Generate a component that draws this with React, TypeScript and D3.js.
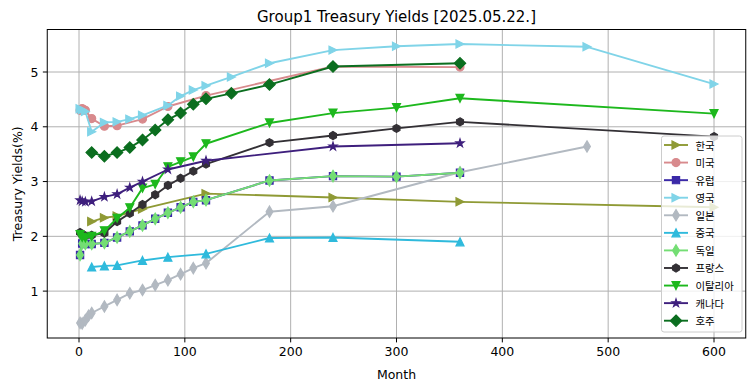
import React from "react";
import * as d3 from "d3";

const W = 755;
const H = 391;

// ---- data ----
const koreaMonths = [12, 24, 36, 60, 120, 240, 360, 600];
const koreaYields = [2.27, 2.34, 2.37, 2.5, 2.78, 2.71, 2.63, 2.53];

const usMonths = [1, 2, 3, 4, 6, 12, 24, 36, 60, 84, 120, 240, 360];
const usYields = [4.3, 4.32, 4.33, 4.32, 4.3, 4.15, 4.01, 4.02, 4.14, 4.37, 4.57, 5.1, 5.09];

const euMonths = [1, 3, 6, 12, 24, 36, 48, 60, 72, 84, 96, 108, 120, 180, 240, 300, 360];
const euYields = [1.66, 1.87, 1.86, 1.86, 1.88, 1.98, 2.09, 2.2, 2.32, 2.43, 2.53, 2.63, 2.66, 3.02, 3.1, 3.09, 3.16];

const ukMonths = [1, 3, 6, 12, 24, 36, 48, 60, 84, 96, 108, 120, 144, 180, 240, 300, 360, 480, 600];
const ukYields = [4.33, 4.31, 4.28, 3.91, 4.08, 4.09, 4.14, 4.21, 4.39, 4.56, 4.67, 4.75, 4.91, 5.16, 5.4, 5.47, 5.51, 5.46, 4.78];

const jpMonths = [1, 3, 6, 9, 12, 24, 36, 48, 60, 72, 84, 96, 108, 120, 180, 240, 360, 480];
const jpYields = [0.42, 0.41, 0.47, 0.55, 0.6, 0.72, 0.84, 0.96, 1.02, 1.11, 1.2, 1.31, 1.42, 1.51, 2.45, 2.55, 3.17, 3.64];

const cnMonths = [12, 24, 36, 60, 84, 120, 180, 240, 360];
const cnYields = [1.44, 1.46, 1.47, 1.56, 1.62, 1.68, 1.97, 1.98, 1.9];

const deMonths = [1, 3, 6, 12, 24, 36, 48, 60, 72, 84, 96, 108, 120, 180, 240, 300, 360];
const deYields = [1.66, 1.87, 1.86, 1.86, 1.88, 1.98, 2.09, 2.2, 2.32, 2.43, 2.53, 2.63, 2.66, 3.02, 3.1, 3.09, 3.16];

const frMonths = [1, 3, 6, 12, 24, 36, 48, 60, 72, 84, 96, 108, 120, 180, 240, 300, 360, 600];
const frYields = [2.07, 2.03, 2.01, 2.02, 2.06, 2.27, 2.42, 2.58, 2.76, 2.93, 3.06, 3.19, 3.32, 3.71, 3.84, 3.97, 4.09, 3.82];

const itMonths = [1, 3, 6, 12, 24, 36, 48, 60, 72, 84, 96, 108, 120, 180, 240, 300, 360, 600];
const itYields = [2.03, 1.98, 1.97, 2.0, 2.1, 2.33, 2.52, 2.88, 2.95, 3.27, 3.36, 3.45, 3.69, 4.07, 4.25, 4.35, 4.52, 4.24];

const caMonths = [1, 3, 6, 12, 24, 36, 48, 60, 84, 120, 240, 360];
const caYields = [2.66, 2.64, 2.63, 2.64, 2.72, 2.77, 2.89, 3.0, 3.22, 3.38, 3.64, 3.7];

const auMonths = [12, 24, 36, 48, 60, 72, 84, 96, 108, 120, 144, 180, 240, 360];
const auYields = [3.53, 3.46, 3.53, 3.62, 3.76, 3.94, 4.13, 4.25, 4.41, 4.51, 4.61, 4.77, 5.1, 5.16];

const seriesNames = ["한국", "미국", "유럽", "영국", "일본", "중국", "독일", "프랑스", "이탈리아", "캐나다", "호주"];
const seriesColors = ["#8f9a35", "#d88a8d", "#3b2aa8", "#80d4e8", "#b2b9c1", "#2fbadc", "#74de74", "#333035", "#1db81d", "#3e1f7d", "#0b6e1f"];
const seriesMarkers = [">", "o", "s", ">", "d", "^", "d", "h", "v", "*", "D"];
const seriesMonths = [koreaMonths, usMonths, euMonths, ukMonths, jpMonths, cnMonths, deMonths, frMonths, itMonths, caMonths, auMonths];
const seriesYields = [koreaYields, usYields, euYields, ukYields, jpYields, cnYields, deYields, frYields, itYields, caYields, auYields];

const xTicks = [0, 100, 200, 300, 400, 500, 600];
const yTicks = [1, 2, 3, 4, 5];

// ---- layout ----
const L = 47.25, R = 745.75, T = 29.5, B = 338;
const MS = 8;

function markerPath(type: string, ms: number): string {
  const h = ms / 2;
  switch (type) {
    case "o": {
      const r = h;
      return `M${-r},0a${r},${r} 0 1,0 ${2 * r},0a${r},${r} 0 1,0 ${-2 * r},0Z`;
    }
    case "s": {
      const s = h * 0.9;
      return `M${-s},${-s}H${s}V${s}H${-s}Z`;
    }
    case "D": {
      const a = ms * 0.707;
      return `M0,${-a}L${a},0L0,${a}L${-a},0Z`;
    }
    case "d": {
      const a = ms * 0.707;
      return `M0,${-a}L${0.6 * a},0L0,${a}L${-0.6 * a},0Z`;
    }
    case "^":
      return `M0,${-h}L${h},${h}L${-h},${h}Z`;
    case "v":
      return `M0,${h}L${h},${-h}L${-h},${-h}Z`;
    case ">":
      return `M${h},0L${-h},${-h}L${-h},${h}Z`;
    case "h": {
      const pts = d3.range(6).map((i) => {
        const ang = (Math.PI / 3) * i - Math.PI / 2;
        return [h * Math.cos(ang), h * Math.sin(ang)];
      });
      return "M" + pts.map((p) => p.join(",")).join("L") + "Z";
    }
    case "*": {
      const outer = h * 1.05;
      const inner = outer * 0.381966;
      const pts = d3.range(10).map((i) => {
        const ang = (Math.PI / 5) * i - Math.PI / 2;
        const rr = i % 2 === 0 ? outer : inner;
        return [rr * Math.cos(ang), rr * Math.sin(ang)];
      });
      return "M" + pts.map((p) => p.join(",")).join("L") + "Z";
    }
  }
  return "";
}

export default function App() {
  const x = d3.scaleLinear().domain([-30, 630]).range([L, R]);
  const y = d3.scaleLinear().domain([0.144, 5.776]).range([B, T]);
  const line = d3
    .line<[number, number]>()
    .x((d) => x(d[0]))
    .y((d) => y(d[1]));

  const font = "'DejaVu Sans', sans-serif";
  const legX = 661.5, legY = 136, legW = 80.5, legH = 196;
  const rowH = 17.57;

  return (
    <svg width={W} height={H} style={{ position: "absolute", left: 0, top: 0, background: "#fff" }}>
      <rect x={0} y={0} width={W} height={H} fill="#fff" />
      {/* grid */}
      <g stroke="#b0b0b0" strokeWidth={1}>
        {xTicks.map((t) => (
          <line key={"gx" + t} x1={x(t)} x2={x(t)} y1={T} y2={B} />
        ))}
        {yTicks.map((t) => (
          <line key={"gy" + t} x1={L} x2={R} y1={y(t)} y2={y(t)} />
        ))}
      </g>
      {/* series */}
      {seriesNames.map((name, i) => {
        const pts: [number, number][] = seriesMonths[i].map((m, j) => [m, seriesYields[i][j]]);
        const c = seriesColors[i];
        const mp = markerPath(seriesMarkers[i], MS);
        return (
          <g key={name}>
            <path d={line(pts) || ""} fill="none" stroke={c} strokeWidth={1.9} strokeLinejoin="round" />
            {pts.map((p, j) => (
              <path
                key={j}
                d={mp}
                transform={`translate(${x(p[0])},${y(p[1])})`}
                fill={c}
                stroke={c}
                strokeWidth={1.2}
                strokeLinejoin="miter"
              />
            ))}
          </g>
        );
      })}
      {/* axes frame */}
      <rect x={L} y={T} width={R - L} height={B - T} fill="none" stroke="#000" strokeWidth={1} />
      {/* ticks */}
      <g stroke="#000" strokeWidth={1}>
        {xTicks.map((t) => (
          <line key={"tx" + t} x1={x(t)} x2={x(t)} y1={B} y2={B + 4.4} />
        ))}
        {yTicks.map((t) => (
          <line key={"ty" + t} x1={L - 4.4} x2={L} y1={y(t)} y2={y(t)} />
        ))}
      </g>
      <g fontFamily={font} fontSize={12.5} fill="#000">
        {xTicks.map((t) => (
          <text key={"lx" + t} x={x(t)} y={B + 8.8} textAnchor="middle" dominantBaseline="hanging">
            {t}
          </text>
        ))}
        {yTicks.map((t) => (
          <text key={"ly" + t} x={L - 8.8} y={y(t)} textAnchor="end" dominantBaseline="central">
            {t}
          </text>
        ))}
        <text x={(L + R) / 2} y={379} textAnchor="middle">
          Month
        </text>
        <text
          x={0}
          y={0}
          transform={`translate(21.5,${(T + B) / 2}) rotate(-90)`}
          textAnchor="middle"
        >
          Treasury Yields(%)
        </text>
        <text x={(L + R) / 2} y={22} textAnchor="middle" fontSize={15}>
          Group1 Treasury Yields [2025.05.22.]
        </text>
      </g>
      {/* legend */}
      <g>
        <rect x={legX} y={legY} width={legW} height={legH} rx={2.5} fill="#fff" fillOpacity={0.8} stroke="#cccccc" strokeWidth={1} />
        {seriesNames.map((name, i) => {
          const cy = legY + 9 + i * rowH;
          const c = seriesColors[i];
          return (
            <g key={"lg" + name}>
              <line x1={legX + 2.5} x2={legX + 26.5} y1={cy} y2={cy} stroke={c} strokeWidth={1.9} />
              <path d={markerPath(seriesMarkers[i], MS)} transform={`translate(${legX + 14.5},${cy})`} fill={c} stroke={c} strokeWidth={1.2} />
              <text x={legX + 34} y={cy} dominantBaseline="central" fontSize={10.4} fontFamily="'Noto Sans CJK KR', sans-serif" fill="#000">
                {name}
              </text>
            </g>
          );
        })}
      </g>
    </svg>
  );
}
